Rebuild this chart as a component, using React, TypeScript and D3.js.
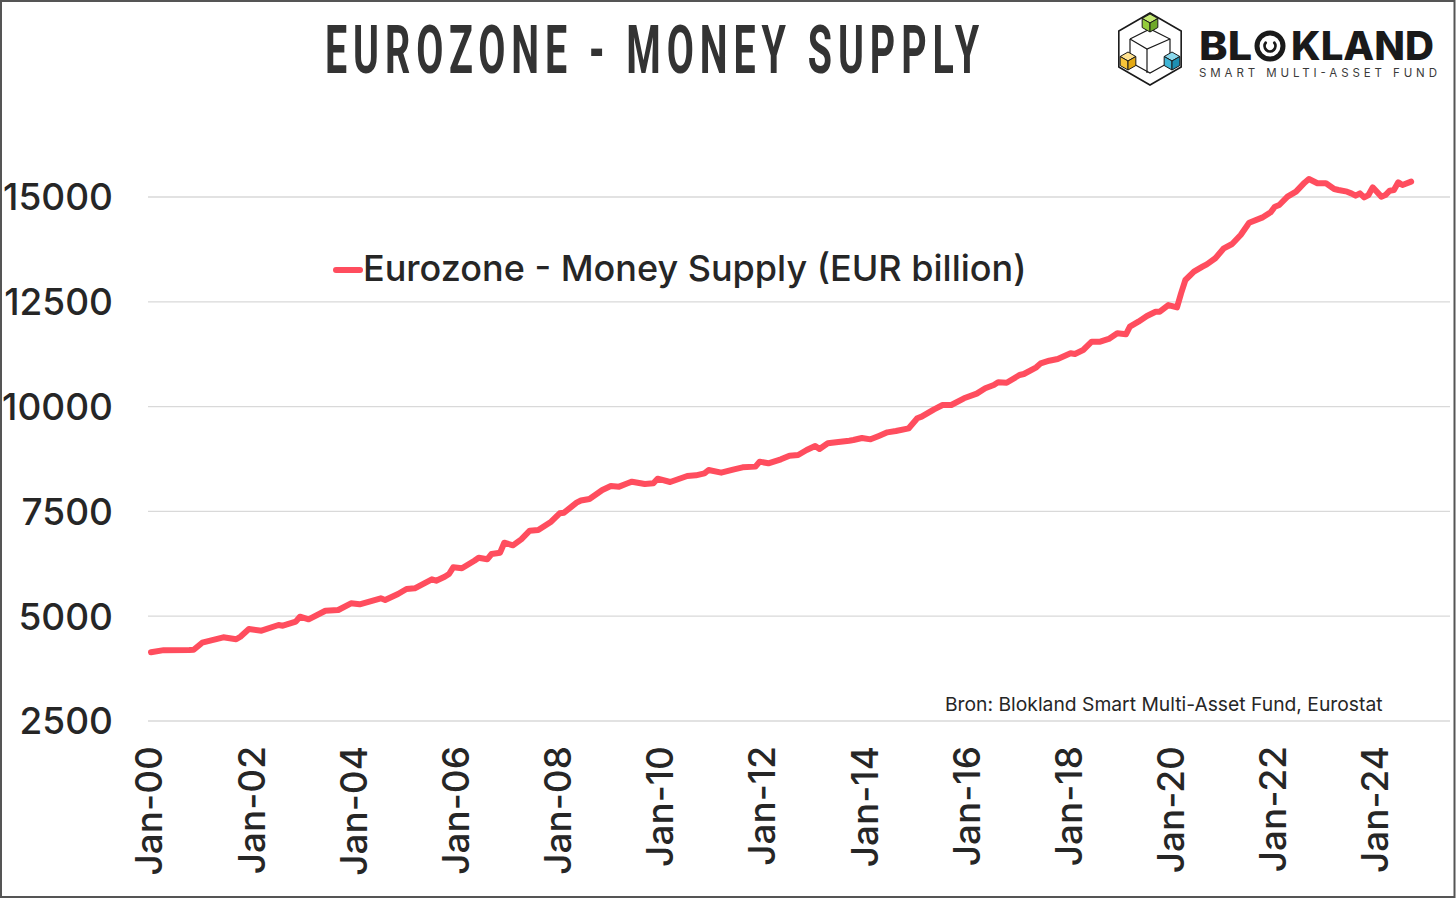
import { useMemo } from "react";

import * as d3 from "d3";

// Monthly readings (YYYY-MM) and Eurozone money supply, EUR billion
const months = [
  "2000-01", "2000-04", "2000-10", "2000-11", "2001-01", "2001-06", "2001-09", "2001-10", "2001-12",
  "2002-03", "2002-07", "2002-08", "2002-11", "2002-12", "2003-02", "2003-06", "2003-09", "2003-12",
  "2004-02", "2004-07", "2004-08", "2004-11", "2005-01", "2005-03", "2005-07", "2005-08", "2005-10",
  "2005-11", "2005-12", "2006-02", "2006-05", "2006-06", "2006-08", "2006-09", "2006-11", "2006-12",
  "2007-02", "2007-04", "2007-06", "2007-08", "2007-11", "2008-01", "2008-02", "2008-05", "2008-06",
  "2008-08", "2008-11", "2009-01", "2009-03", "2009-05", "2009-06", "2009-09", "2009-11", "2009-12",
  "2010-03", "2010-07", "2010-09", "2010-11", "2010-12", "2011-03", "2011-06", "2011-08", "2011-11",
  "2011-12", "2012-02", "2012-05", "2012-07", "2012-09", "2012-11", "2013-01", "2013-02", "2013-04",
  "2013-07", "2013-09", "2013-10", "2013-12", "2014-02", "2014-04", "2014-06", "2014-08", "2014-11",
  "2015-01", "2015-02", "2015-05", "2015-07", "2015-09", "2015-12", "2016-03", "2016-05", "2016-07",
  "2016-08", "2016-10", "2017-01", "2017-02", "2017-05", "2017-06", "2017-08", "2017-10", "2018-01",
  "2018-02", "2018-04", "2018-06", "2018-08", "2018-10", "2018-12", "2019-02", "2019-03", "2019-05",
  "2019-07", "2019-09", "2019-10", "2019-12", "2020-02", "2020-03", "2020-04", "2020-06", "2020-08",
  "2020-09", "2020-11", "2021-01", "2021-03", "2021-05", "2021-07", "2021-10", "2021-12", "2022-01",
  "2022-02", "2022-04", "2022-06", "2022-08", "2022-09", "2022-11", "2023-01", "2023-03", "2023-04",
  "2023-06", "2023-07", "2023-08", "2023-09", "2023-10", "2023-11", "2023-12", "2024-02", "2024-03",
  "2024-04", "2024-05", "2024-06", "2024-07", "2024-09",
];

const supply = [
  4140, 4190, 4195, 4200, 4368, 4497, 4450, 4511, 4695,
  4654, 4790, 4773, 4869, 4988, 4926, 5131, 5148, 5308,
  5284, 5427, 5387, 5530, 5649, 5666, 5880, 5847, 5942,
  6007, 6166, 6143, 6324, 6396, 6357, 6484, 6515, 6753,
  6691, 6834, 7040, 7056, 7254, 7455, 7469, 7708, 7760,
  7796, 8011, 8106, 8090, 8170, 8209, 8154, 8170, 8280,
  8201, 8345, 8361, 8409, 8488, 8424, 8504, 8552, 8568,
  8687, 8647, 8743, 8830, 8846, 8965, 9060, 8989, 9124,
  9163, 9187, 9203, 9251, 9219, 9299, 9386, 9418, 9482,
  9721, 9760, 9935, 10038, 10038, 10198, 10310, 10437, 10515,
  10580, 10570, 10754, 10778, 10937, 11032, 11095, 11135, 11271,
  11255, 11350, 11549, 11549, 11613, 11748, 11724, 11906, 12025,
  12161, 12264, 12264, 12423, 12368, 12702, 13020, 13218, 13337,
  13394, 13538, 13776, 13879, 14094, 14387, 14507, 14635, 14769,
  14809, 15008, 15127, 15342, 15430, 15327, 15327, 15191, 15167,
  15127, 15087, 15032, 15087, 14992, 15047, 15231, 15008, 15047,
  15151, 15167, 15350, 15286, 15366,
];

const yTicks = [2500, 5000, 7500, 10000, 12500, 15000];

const xTickLabels = [
  "Jan-00", "Jan-02", "Jan-04", "Jan-06", "Jan-08", "Jan-10", "Jan-12",
  "Jan-14", "Jan-16", "Jan-18", "Jan-20", "Jan-22", "Jan-24",
];

const seriesName = "Eurozone - Money Supply (EUR billion)";
const title = "EUROZONE - MONEY SUPPLY";
const source = "Bron: Blokland Smart Multi-Asset Fund, Eurostat";

const W = 1456;
const H = 898;
const LINE_COLOR = "#ff4d5e";
const TEXT_COLOR = "#262626";
const FONT = "Inter, 'Noto Sans', sans-serif";

const parseMonth = d3.timeParse("%Y-%m");
const parseTick = d3.timeParse("%b-%y");

// small isometric cube for the logo
function Cube({ cx, cy, s, top, left, right }: { cx: number; cy: number; s: number; top: string; left: string; right: string }) {
  const k = 0.87 * s;
  const p = (pts: number[][]) => pts.map((q) => q.join(",")).join(" ");
  return (
    <g stroke="#1a1a1a" strokeWidth={1} strokeLinejoin="round">
      <polygon points={p([[cx, cy - s], [cx + k, cy - s / 2], [cx, cy], [cx - k, cy - s / 2]])} fill={top} />
      <polygon points={p([[cx - k, cy - s / 2], [cx, cy], [cx, cy + s], [cx - k, cy + s / 2]])} fill={left} />
      <polygon points={p([[cx, cy], [cx + k, cy - s / 2], [cx + k, cy + s / 2], [cx, cy + s]])} fill={right} />
    </g>
  );
}

function Logo() {
  const cx = 1150;
  const cy = 49;
  const r = 36;
  const hex = d3.range(6).map((i) => {
    const a = (Math.PI / 3) * i - Math.PI / 2;
    return [cx + r * Math.cos(a), cy + r * Math.sin(a)].join(",");
  });
  // the "O" of the word mark is a copyright ring, drawn as shapes
  const ring = d3.arc()({ innerRadius: 0, outerRadius: 0, startAngle: 0, endAngle: 0 });
  const cArc = d3
    .arc()
    .innerRadius(4)
    .outerRadius(6.8)
    .startAngle(Math.PI * 0.22)
    .endAngle(Math.PI * 1.78)
    .cornerRadius(1);
  return (
    <g>
      <polygon points={hex.join(" ")} fill="none" stroke="#1a1a1a" strokeWidth={1.6} />
      {/* wireframe cube */}
      <g fill="none" stroke="#1a1a1a" strokeWidth={1.2}>
        <polyline points={`${cx - 20},${cy - 10} ${cx},${cy - 20} ${cx + 20},${cy - 10} ${cx + 20},${cy + 13} ${cx},${cy + 24} ${cx - 20},${cy + 13} ${cx - 20},${cy - 10}`} />
        <polyline points={`${cx - 20},${cy - 10} ${cx - 3},${cy} ${cx + 20},${cy - 10}`} />
        <line x1={cx - 3} y1={cy} x2={cx - 3} y2={cy + 24} />
      </g>
      <Cube cx={1150} cy={23} s={9} top="#c5ea74" left="#94cc3c" right="#6fa82a" />
      <Cube cx={1128} cy={61} s={9} top="#ffe291" left="#f8c43a" right="#e3a914" />
      <Cube cx={1172} cy={61} s={9} top="#8ad8ec" left="#3fb5d6" right="#1e8fb2" />
      <text x={1199} y={60} fontFamily={FONT} fontWeight={800} fontSize={40} fill="#1a1a1a">
        <tspan textLength={53} lengthAdjust="spacingAndGlyphs">BL</tspan>
        <tspan x={1291} textLength={143} lengthAdjust="spacingAndGlyphs">KLAND</tspan>
      </text>
      {ring && null}
      <circle cx={1270} cy={46} r={13} fill="none" stroke="#1a1a1a" strokeWidth={5} />
      <path d={cArc(undefined as any) ?? ""} transform="translate(1270,46)" fill="#1a1a1a" />
      <text x={1199} y={76.5} fontFamily={FONT} fontWeight={400} fontSize={11.5} fill="#3a3a3a" textLength={238} lengthAdjust="spacing">
        SMART MULTI-ASSET FUND
      </text>
    </g>
  );
}

export default function App() {
  const data = useMemo(
    () => months.map((m, i) => ({ date: parseMonth(m) as Date, value: supply[i] })),
    []
  );

  const x = d3
    .scaleTime()
    .domain([parseTick("Jan-00") as Date, parseTick("Jan-24") as Date])
    .range([151, 1377]);

  const y = d3.scaleLinear().domain([2500, 15000]).range([721, 197]);

  const line = d3
    .line<{ date: Date; value: number }>()
    .x((d) => x(d.date))
    .y((d) => y(d.value));

  return (
    <svg
      width={W}
      height={H}
      style={{ position: "absolute", left: 0, top: 0, display: "block" }}
    >
      <rect x={1} y={1} width={W - 2.5} height={H - 2} fill="#fff" stroke="#555" strokeWidth={2} />

      <text
        x={325}
        y={73}
        fontFamily="Roboto, sans-serif"
        fontWeight={700}
        fontSize={66}
        fill="#333"
        textLength={660}
        lengthAdjust="spacingAndGlyphs"
        letterSpacing={10}
      >
        {title}
      </text>

      <Logo />

      {/* gridlines */}
      {yTicks.map((t) => (
        <line key={t} x1={148} x2={1450} y1={y(t)} y2={y(t)} stroke="#d9d9d9" strokeWidth={1.3} />
      ))}

      {/* y labels */}
      {yTicks.map((t) => (
        <text
          key={t}
          x={113}
          y={y(t)}
          dy="0.36em"
          textAnchor="end"
          fontFamily={FONT}
          fontWeight={500}
          fontSize={37}
          fill={TEXT_COLOR}
        >
          {t}
        </text>
      ))}

      {/* x labels */}
      {xTickLabels.map((lbl) => {
        const tx = x(parseTick(lbl) as Date) - 2;
        return (
          <text
            key={lbl}
            transform={`translate(${tx},746) rotate(-90)`}
            dy="0.36em"
            textAnchor="end"
            fontFamily={FONT}
            fontWeight={500}
            fontSize={37}
            fill={TEXT_COLOR}
          >
            {lbl}
          </text>
        );
      })}

      <path
        d={line(data) ?? ""}
        fill="none"
        stroke={LINE_COLOR}
        strokeWidth={6}
        strokeLinejoin="round"
        strokeLinecap="round"
      />

      {/* legend */}
      <line x1={336} x2={360} y1={270} y2={270} stroke={LINE_COLOR} strokeWidth={6} strokeLinecap="round" />
      <text x={363} y={281} fontFamily={FONT} fontWeight={500} fontSize={36} fill={TEXT_COLOR}>
        {seriesName}
      </text>

      <text x={945} y={711} fontFamily={FONT} fontWeight={400} fontSize={19.3} fill={TEXT_COLOR}>
        {source}
      </text>
    </svg>
  );
}
